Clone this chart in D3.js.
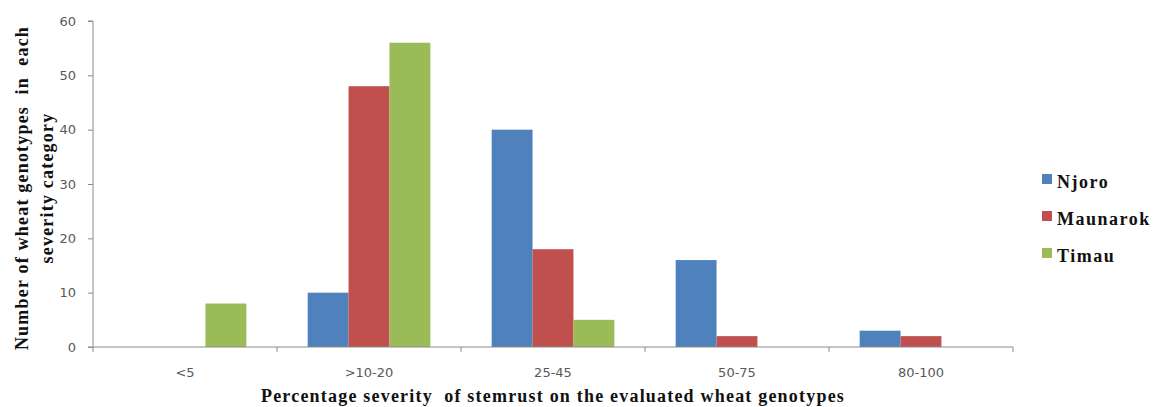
<!DOCTYPE html>
<html>
<head>
<meta charset="utf-8">
<script src="https://cdn.jsdelivr.net/npm/d3@7"></script>
<style>
  html, body { margin: 0; padding: 0; background: #fff; }
  svg { display: block; }
</style>
</head>
<body>
<svg id="chart" width="1155" height="407"></svg>
<script>
// Severity classes of stem rust and the number of genotypes per location
const categories = ["<5", ">10-20", "25-45", "50-75", "80-100"];
const seriesNames = ["Njoro", "Maunarok", "Timau"];
const njoro    = [0, 10, 40, 16, 3];
const maunarok = [0, 48, 18, 2, 2];
const timau    = [8, 56, 5, 0, 0];
const yTicks   = [0, 10, 20, 30, 40, 50, 60];
const colors   = ["#4F81BD", "#C0504D", "#9BBB59"];

const seriesValues = [njoro, maunarok, timau];

const svg = d3.select("#chart");
const margin = { left: 93, right: 142, top: 21, bottom: 60 };
const W = 1155, H = 407;
const plotW = W - margin.left - margin.right;
const plotH = H - margin.top - margin.bottom;

const g = svg.append("g").attr("transform", `translate(${margin.left},${margin.top})`);

const x0 = d3.scaleBand().domain(categories).range([0, plotW]).paddingInner(0).paddingOuter(0);
// Gap width of 150%: 3 bars + 1.5 bar widths of gap per category
const bw = x0.bandwidth() / 4.5;
const x1 = d3.scaleBand().domain(seriesNames)
  .range([bw * 0.75, bw * 3.75]).padding(0);
const y = d3.scaleLinear().domain([0, 60]).range([plotH, 0]);

const axisColor = "#8c8c8c";
const tickFont = "'DejaVu Sans', Verdana, sans-serif";
const labelColor = "#595959";

// Bars
categories.forEach((c, i) => {
  seriesNames.forEach((s, j) => {
    const v = seriesValues[j][i];
    if (v <= 0) return;
    g.append("rect")
      .attr("x", x0(c) + x1(s))
      .attr("y", y(v))
      .attr("width", x1.bandwidth())
      .attr("height", y(0) - y(v))
      .attr("fill", colors[j]);
  });
});

// Y axis
const yAxis = g.append("g")
  .call(d3.axisLeft(y).tickValues(yTicks).tickSize(5).tickPadding(12).tickFormat(d3.format("d")));
yAxis.select(".domain").attr("stroke", axisColor).attr("d", `M-5,${plotH}H0V${y(60)}H-5`);
yAxis.selectAll(".tick line").attr("stroke", axisColor);
yAxis.selectAll(".tick text")
  .attr("fill", labelColor).style("font-family", tickFont).style("font-size", "13px");

// X axis
const tickPositions = d3.range(categories.length + 1).map(i => i * x0.step());
const xAxisG = g.append("g").attr("transform", `translate(0,${plotH})`);
xAxisG.append("line")
  .attr("x1", 0).attr("x2", plotW).attr("y1", 0).attr("y2", 0)
  .attr("stroke", axisColor);
xAxisG.selectAll(".xt").data(tickPositions).enter().append("line")
  .attr("x1", d => d).attr("x2", d => d).attr("y1", 0).attr("y2", 5)
  .attr("stroke", axisColor);
xAxisG.selectAll(".xl").data(categories).enter().append("text")
  .attr("x", d => x0(d) + x0.bandwidth() / 2)
  .attr("y", 30)
  .attr("text-anchor", "middle")
  .attr("fill", labelColor)
  .style("font-family", tickFont).style("font-size", "13px")
  .text(d => d);

// Axis titles
const titleFont = "'Liberation Serif', 'Times New Roman', serif";
function titleStyle(sel) {
  return sel.style("font-family", titleFont).style("font-weight", "bold")
    .style("font-size", "18px").style("letter-spacing", "1.2px").attr("fill", "#111");
}

svg.append("text")
  .attr("x", 553).attr("y", 402)
  .attr("text-anchor", "middle")
  .attr("xml:space", "preserve")
  .call(titleStyle)
  .text("Percentage severity  of stemrust on the evaluated wheat genotypes");

const yTitle = svg.append("text")
  .attr("transform", "translate(0,188) rotate(-90)")
  .attr("text-anchor", "middle")
  .attr("xml:space", "preserve")
  .call(titleStyle);
yTitle.append("tspan").attr("x", 0).attr("y", 28).text("Number of wheat genotypes  in  each");
yTitle.append("tspan").attr("x", 0).attr("y", 53).text("severity category");

// Legend
const legend = svg.append("g").attr("transform", "translate(1042,188)");
seriesNames.forEach((s, i) => {
  const row = legend.append("g").attr("transform", `translate(0,${i * 37})`);
  row.append("rect").attr("x", 0).attr("y", -14).attr("width", 10).attr("height", 10).attr("fill", colors[i]);
  row.append("text").attr("x", 15).attr("y", 0)
    .call(titleStyle)
    .style("letter-spacing", "1.5px")
    .text(s);
});
</script>
</body>
</html>
